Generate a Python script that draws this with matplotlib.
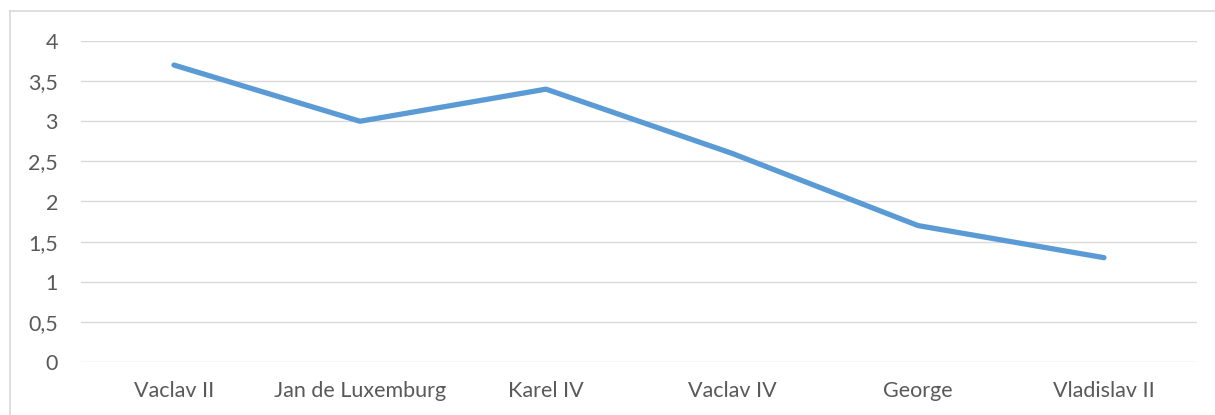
import matplotlib.pyplot as plt
from matplotlib.lines import Line2D

rulers = ['Vaclav II', 'Jan de Luxemburg', 'Karel IV', 'Vaclav IV', 'George', 'Vladislav II']
values = [3.7, 3.0, 3.4, 2.6, 1.7, 1.3]
yticks = [0, 0.5, 1, 1.5, 2, 2.5, 3, 3.5, 4]
ytick_labels = ['0', '0,5', '1', '1,5', '2', '2,5', '3', '3,5', '4']

plt.rcParams['font.family'] = ['Lato', 'DejaVu Sans']

W, H = 1215, 415
fig = plt.figure(figsize=(W / 100, H / 100), dpi=100)
ax = fig.add_axes([81 / W, 1 - 362 / H, (1197 - 81) / W, (362 - 41) / H])

x = list(range(len(rulers)))
ax.plot(x, values, color='#5B9BD5', lw=3.8, solid_capstyle='round', solid_joinstyle='round', zorder=3)

ax.set_xlim(-0.5, len(rulers) - 0.5)
ax.set_ylim(0, 4)
ax.set_yticks(yticks)
ax.set_yticklabels(ytick_labels)
ax.set_xticks(x)
ax.set_xticklabels(rulers)
ax.grid(axis='y', color='#D9D9D9', lw=1)
ax.set_axisbelow(True)
for s in ax.spines.values():
    s.set_visible(False)
ax.tick_params(length=0, labelsize=15.5, colors='#595959')
ax.tick_params(axis='y', pad=16.5)
ax.tick_params(axis='x', pad=14)

# chart area border (cut off at right and bottom in the original)
fig.add_artist(Line2D([10.5 / W, 10.5 / W], [0, 1 - 11.5 / H], color='#D9D9D9', lw=1.2, transform=fig.transFigure))
fig.add_artist(Line2D([10.5 / W, 1], [1 - 11.5 / H, 1 - 11.5 / H], color='#D9D9D9', lw=1.2, transform=fig.transFigure))

fig.savefig('out.png', dpi=100)
